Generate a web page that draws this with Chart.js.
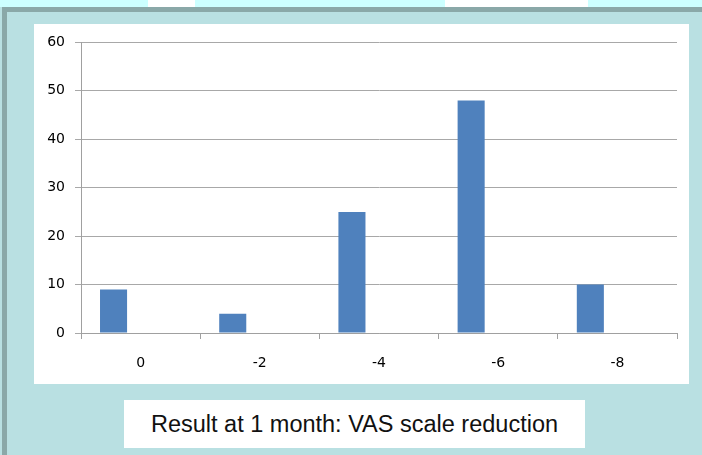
<!DOCTYPE html>
<html>
<head>
<meta charset="utf-8">
<script src="https://cdn.jsdelivr.net/npm/chart.js@4"></script>
<style>
  html,body{margin:0;padding:0;}
  body{width:702px;height:455px;background:#b9e0e2;position:relative;overflow:hidden;font-family:"Liberation Sans",Arial,sans-serif;}
  #topstrip{position:absolute;left:0;top:0;width:702px;height:7px;background:#ffffff;}
  .cy{position:absolute;top:0;height:7px;background:#ccffff;}
  #topborder{position:absolute;left:2px;top:7px;width:700px;height:5px;background:#8aa8a8;}
  #leftborder{position:absolute;left:2px;top:7px;width:5px;height:448px;background:#8aa8a8;}
  #panel{position:absolute;left:34px;top:24px;width:655px;height:360px;background:#fff;}
  #caption{position:absolute;left:124px;top:400px;width:461px;height:48px;background:#fff;
    font-size:23.5px;line-height:48px;text-align:center;color:#111;}
</style>
</head>
<body>
<div id="topstrip">
  <div class="cy" style="left:0;width:148px"></div>
  <div class="cy" style="left:195px;width:250px"></div>
  <div class="cy" style="left:588px;width:114px"></div>
</div>
<div id="topborder"></div>
<div id="leftborder"></div>
<div id="panel"><canvas id="c" width="655" height="360"></canvas></div>
<div id="caption">Result at 1 month: VAS scale reduction</div>
<script>
const categories = ["0", "-2", "-4", "-6", "-8"];
const patients = [9, 4, 25, 48, 10];
const emptySeriesA = [];
const emptySeriesB = [];
const yTicks = [0, 10, 20, 30, 40, 50, 60];

new Chart(document.getElementById('c'), {
  type: 'bar',
  data: {
    labels: categories,
    datasets: [
      {data: patients, backgroundColor: '#4f81bd', categoryPercentage: 0.681, barPercentage: 1},
      {data: emptySeriesA, backgroundColor: '#c0504d', categoryPercentage: 0.681, barPercentage: 1},
      {data: emptySeriesB, backgroundColor: '#9bbb59', categoryPercentage: 0.681, barPercentage: 1}
    ]
  },
  options: {
    responsive: false,
    animation: false,
    layout: {padding: {top: 16, right: 12, left: 0, bottom: 0}},
    plugins: {legend: {display: false}, tooltip: {enabled: false}},
    scales: {
      x: {
        grid: {drawOnChartArea: false, drawTicks: true, tickLength: 6, offset: true, color: '#a0a0a0'},
        border: {color: '#a0a0a0', width: 1},
        ticks: {color: '#000', padding: 16, font: {family: 'DejaVu Sans', size: 14}},
        afterFit: s => { s.height = 51; }
      },
      y: {
        min: 0, max: 60,
        afterBuildTicks: s => { s.ticks = yTicks.map(v => ({value: v})); },
        grid: {color: '#a8a8a8', tickLength: 6, drawTicks: true},
        border: {color: '#a0a0a0', width: 1},
        ticks: {color: '#000', padding: 10, font: {family: 'DejaVu Sans', size: 14}},
        afterFit: s => { s.width = 47; }
      }
    }
  }
});
</script>
</body>
</html>
